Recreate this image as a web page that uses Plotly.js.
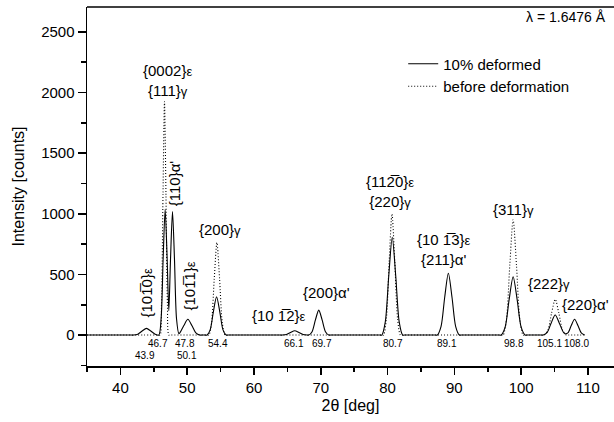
<!DOCTYPE html>
<html>
<head>
<meta charset="utf-8">
<script src="https://cdn.plot.ly/plotly-3.0.1.min.js"></script>
<style>html,body{margin:0;padding:0;background:#fff;overflow:hidden}#chart{width:614px;height:422px}</style>
</head>
<body>
<div id="chart"></div>
<script>
// 10% deformed (solid)
const deformedX = [35, 41.65, 41.95, 42.6, 43.25, 43.9, 44.55, 45.2, 45.75, 46.1, 46.4, 46.7, 47.0, 47.25, 47.5, 47.8, 48.1, 48.4, 48.75, 48.9, 49.5, 50.1, 50.7, 51.3, 51.9, 52.2, 52.66, 52.96, 53.44, 53.92, 54.4, 54.88, 55.36, 55.84, 56.14, 63.94, 64.24, 64.86, 65.48, 66.1, 66.72, 67.34, 67.96, 68.2, 68.7, 69.2, 69.7, 70.2, 70.7, 71.2, 71.5, 78.84, 79.14, 79.66, 80.18, 80.7, 81.22, 81.74, 82.26, 82.56, 87.15, 87.45, 88.0, 88.55, 89.1, 89.65, 90.2, 90.75, 91.05, 96.7, 97.0, 97.6, 98.2, 98.8, 99.4, 100.0, 100.6, 100.9, 103.0, 103.3, 103.9, 104.5, 105.1, 105.7, 106.3, 106.55, 107.0, 107.5, 108.0, 108.5, 109.0, 109.5];
const deformedY = [0, 0, 0, 7, 33, 55, 33, 7, 0, 140, 630, 1038, 630, 200, 620, 1018, 620, 137, 12, 18, 79, 130, 79, 18, 0, 0, 0, 0, 43, 192, 316, 192, 43, 0, 0, 0, 0, 5, 22, 36, 22, 5, 0, 0, 28, 125, 206, 125, 28, 0, 0, 0, 0, 109, 489, 806, 489, 109, 0, 0, 0, 0, 69, 310, 510, 310, 69, 0, 0, 0, 0, 65, 292, 481, 292, 65, 0, 0, 0, 0, 22, 100, 165, 100, 25, 11, 18, 79, 130, 79, 18, 0];

// before deformation (dotted)
const beforeX = [35, 45.64, 45.94, 46.16, 46.38, 46.6, 46.82, 47.04, 47.26, 47.56, 52.95, 53.25, 53.65, 54.05, 54.45, 54.85, 55.25, 55.65, 55.95, 79.1, 79.4, 79.82, 80.24, 80.66, 81.08, 81.5, 81.92, 82.22, 97.0, 97.3, 97.8, 98.3, 98.8, 99.3, 99.8, 100.3, 100.6, 103.15, 103.45, 104.0, 104.55, 105.1, 105.65, 106.2, 106.75, 107.05, 109.5];
const beforeY = [0, 0, 0, 260, 1168, 1925, 1168, 260, 0, 0, 0, 0, 103, 463, 762, 463, 103, 0, 0, 0, 0, 135, 606, 999, 606, 135, 0, 0, 0, 0, 128, 577, 950, 577, 128, 0, 0, 0, 0, 40, 179, 295, 179, 40, 0, 0, 0];

// peak position labels
const posLabels = ["46.7", "47.8", "43.9", "50.1", "54.4", "66.1", "69.7", "80.7", "89.1", "98.8", "105.1", "108.0"];
const posLabelX = [45.67, 49.64, 43.73, 50.0, 54.58, 66.03, 70.12, 80.75, 88.9, 98.87, 104.2, 108.25];
const posLabelRow = [1, 1, 2, 2, 1, 1, 1, 1, 1, 1, 1, 1];

// reflection labels
const eps = "<span style='font-size:13px'>ε</span>";
const gam = "<span style='font-size:13px'>γ</span>";
const bar = "\u0305";
const peakLabels = [
  "{0002}" + eps + "<br>{111}" + gam,
  "{110}α'",
  "{101" + bar + "0}" + eps,
  "{101" + bar + "1}" + eps,
  "{200}" + gam,
  "{10 1" + bar + "2}" + eps,
  "{200}α'",
  "{112" + bar + "0}" + eps + "<br>{220}" + gam,
  "{10 1" + bar + "3}" + eps + "<br>{211}α'",
  "{311}" + gam,
  "{222}" + gam,
  "{220}α'"
];
const peakLabelX = [46.98, 48.08, 43.98, 50.36, 54.96, 63.8, 70.85, 80.4, 88.4, 98.87, 104.1, 109.6];
const peakLabelY = [2100, 1255, 351, 405, 867, 165, 347, 1183, 706, 1038, 427, 256];
const peakLabelAngle = [0, -90, -90, -90, 0, 0, 0, 0, 0, 0, 0, 0];

const font = "Liberation Sans, Arial, sans-serif";

const traces = [
  {x: deformedX, y: deformedY, mode: "lines", name: "10% deformed",
   line: {color: "#000", width: 1.1, shape: "spline", smoothing: 0.8}},
  {x: beforeX, y: beforeY, mode: "lines", name: "before deformation",
   line: {color: "#000", width: 1.1, dash: "1px,2px", shape: "spline", smoothing: 0.8}}
];

const annotations = [];
for (let i = 0; i < peakLabels.length; i++) {
  annotations.push({x: peakLabelX[i], y: peakLabelY[i], xref: "x", yref: "y",
    text: peakLabels[i], showarrow: false, textangle: peakLabelAngle[i],
    font: {family: font, size: 15, color: "#000"}});
}
for (let i = 0; i < posLabels.length; i++) {
  annotations.push({x: posLabelX[i], y: posLabelRow[i] === 1 ? -66 : -166, xref: "x", yref: "y",
    text: posLabels[i], showarrow: false, font: {family: font, size: 10, color: "#000"}});
}
annotations.push({x: 0.908, y: 1.0, xref: "paper", yref: "paper", xanchor: "center",
  text: "λ = 1.6476 Å", showarrow: false, font: {family: font, size: 14, color: "#000"}});

const layout = {
  width: 614, height: 422,
  margin: {l: 87, r: 0, t: 7, b: 56},
  paper_bgcolor: "#fff", plot_bgcolor: "#fff",
  font: {family: font, color: "#000"},
  showlegend: true,
  legend: {x: 0.6, y: 0.887, xanchor: "left", yanchor: "top", bgcolor: "rgba(0,0,0,0)",
    font: {family: font, size: 15, color: "#000"}, itemwidth: 30},
  xaxis: {range: [35, 113.9], showgrid: false, zeroline: false, showline: true, linewidth: 2, linecolor: "#000",
    ticks: "outside", ticklen: 7, tickwidth: 1.5, tickcolor: "#000", dtick: 10, tick0: 0,
    minor: {ticks: "outside", ticklen: 4, tickwidth: 1.5, tickcolor: "#000", dtick: 5},
    tickfont: {family: font, size: 15, color: "#000"},
    title: {text: "2θ [deg]", font: {family: font, size: 16, color: "#000"}, standoff: 5}},
  yaxis: {range: [-255, 2705], showgrid: false, zeroline: false, showline: true, linewidth: 1.5, linecolor: "#000",
    ticks: "outside", ticklen: 8, tickwidth: 1.5, tickcolor: "#000", dtick: 500, tick0: 0,
    minor: {ticks: "outside", ticklen: 5, tickwidth: 1.5, tickcolor: "#000", dtick: 250},
    tickfont: {family: font, size: 15, color: "#000"},
    title: {text: "Intensity [counts]", font: {family: font, size: 16, color: "#000"}, standoff: 12}},
  shapes: [{type: "line", xref: "paper", yref: "paper", x0: 0, x1: 1, y0: 1, y1: 1,
    line: {color: "#000", width: 1.5}}],
  annotations: annotations
};

Plotly.newPlot("chart", traces, layout, {staticPlot: true, displayModeBar: false});
</script>
</body>
</html>
